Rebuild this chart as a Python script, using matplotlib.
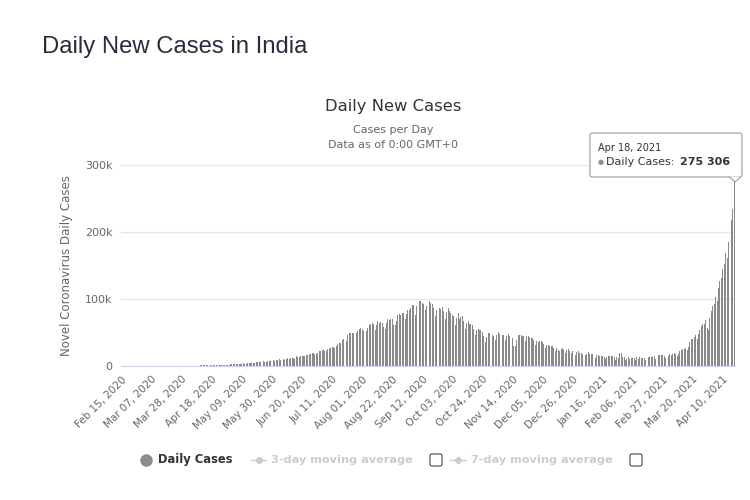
import numpy as np
import pandas as pd
import matplotlib
matplotlib.use("Agg")
import matplotlib.pyplot as plt
from matplotlib.lines import Line2D
from matplotlib.patches import FancyBboxPatch, Polygon

# daily new cases, India (month by month)
feb_2020 = [0] * 15
mar_2020 = [0, 2, 1, 22, 2, 1, 3, 5, 9, 15, 8, 11, 9, 20, 11, 6, 23, 14, 38, 50,
            86, 66, 103, 37, 121, 70, 160, 100, 112, 227, 146]
apr_2020 = [601, 545, 478, 515, 506, 489, 573, 565, 813, 871, 854, 758, 1243, 1031,
            886, 1061, 922, 1371, 1580, 1239, 1537, 1292, 1667, 1408, 1835, 1607,
            1568, 1902, 1705, 1801]
may_2020 = [2396, 2564, 2952, 3656, 2971, 3587, 3364, 3344, 3113, 4353, 3607, 3524,
            3763, 3942, 3787, 4864, 5050, 4630, 6147, 5553, 6198, 6568, 6629, 7111,
            6387, 6535, 7293, 7300, 8105, 8336, 8782]
jun_2020 = [7761, 8821, 9633, 9889, 9471, 10438, 10864, 8442, 10218, 11458, 10956,
            11929, 12036, 11502, 10667, 14516, 12881, 13586, 14933, 15413, 14821,
            14933, 15968, 16922, 17296, 18552, 19906, 19459, 18522, 18653]
jul_2020 = [19428, 21947, 22718, 24018, 24248, 22252, 22752, 24879, 26506, 27114,
            28637, 28701, 26506, 29429, 32695, 34956, 34884, 38697, 40425, 37148,
            37724, 45720, 49310, 48916, 48661, 49931, 47703, 48513, 52123, 55079,
            57118]
aug_2020 = [54735, 52972, 52050, 52509, 56282, 62538, 61537, 64399, 62064, 53601,
            60963, 66999, 64553, 65002, 63489, 57982, 55079, 64531, 69652, 68898,
            69878, 69874, 61408, 60975, 67151, 75760, 77266, 76472, 78761, 78512,
            69921]
sep_2020 = [78357, 83883, 83341, 86432, 90632, 90802, 75809, 89706, 95735, 96551,
            97570, 94372, 92071, 83809, 90123, 97894, 96424, 93337, 92605, 86961,
            75083, 83347, 86508, 86052, 85362, 88600, 82170, 70589, 80472, 86821]
oct_2020 = [81484, 79476, 75829, 74442, 61267, 72049, 78524, 70496, 73272, 74383,
            66732, 55342, 63509, 67708, 63371, 62212, 61871, 55722, 46790, 54044,
            55839, 54366, 53370, 50129, 45149, 36470, 43893, 49881, 48648, 48268,
            46963]
nov_2020 = [45231, 38310, 46253, 50210, 47638, 50357, 45674, 45903, 38073, 44281,
            47905, 44879, 44878, 41100, 30548, 29164, 38617, 45576, 45882, 46232,
            45209, 44059, 37975, 44376, 44489, 43082, 41322, 41810, 38772, 31118]
dec_2020 = [36604, 35551, 36595, 36652, 36011, 32981, 26567, 32080, 31521, 29398,
            30006, 30254, 27071, 22065, 26382, 24010, 22890, 25153, 26624, 24337,
            19556, 23950, 24712, 23067, 18732, 22273, 20021, 16432, 20550, 21822,
            20036]
jan_2021 = [19079, 18177, 18088, 16375, 18088, 20346, 18139, 18222, 18645, 16311,
            12584, 15968, 16946, 15590, 15158, 15144, 13788, 10064, 13823, 15223,
            14545, 14256, 14849, 13203, 9102, 12689, 11666, 18855, 18855, 13083,
            13052]
feb_2021 = [8635, 11039, 12899, 11024, 12408, 11713, 11831, 9110, 12923, 11067,
            12923, 12143, 12194, 11649, 9121, 11610, 12881, 13193, 13993, 13993,
            14264, 10584, 13742, 16738, 16577, 16488, 16752, 15510]
mar_2021 = [12286, 15510, 14989, 17407, 16838, 18327, 18711, 18599, 15388, 17921,
            22854, 23285, 24882, 25320, 26291, 24492, 28903, 35871, 39726, 40953,
            43846, 46951, 40715, 47262, 53476, 59118, 62258, 62714, 68020, 56211,
            53480]
apr_2021 = [72330, 81466, 89129, 93249, 103558, 96982, 115736, 126789, 131968,
            145384, 152879, 168912, 161736, 185248, 200739, 217353, 234692, 275306]

daily_cases = (feb_2020 + mar_2020 + apr_2020 + may_2020 + jun_2020 + jul_2020
               + aug_2020 + sep_2020 + oct_2020 + nov_2020 + dec_2020 + jan_2021
               + feb_2021 + mar_2021 + apr_2021)
dates = pd.date_range("2020-02-15", periods=len(daily_cases), freq="D")
tick_dates = pd.date_range("2020-02-15", "2021-04-18", freq="21D")
y_ticks = [0, 100000, 200000, 300000]
y_labels = ["0", "100k", "200k", "300k"]

fig = plt.figure(figsize=(7.5, 5), dpi=100)
ax = fig.add_axes([121 / 750, 1 - 366 / 500, 614 / 750, 201 / 500])

x = np.arange(len(daily_cases))
ax.bar(x, daily_cases, width=0.66, color="#8a8a8a", zorder=2)

ax.set_xlim(-0.5, len(daily_cases) - 0.5)
ax.set_ylim(0, 300000)
ax.set_yticks(y_ticks)
ax.set_yticklabels(y_labels, color="#666666", fontsize=8)
ax.grid(axis="y", color="#e6e6e6", linewidth=1, zorder=0)
tick_pos = [dates.get_loc(d) for d in tick_dates]
ax.set_xticks(tick_pos)
ax.set_xticklabels([d.strftime("%b %d, %Y") for d in tick_dates],
                   rotation=45, ha="right", va="top", rotation_mode="anchor",
                   color="#666666", fontsize=7.5)
ax.tick_params(length=0, pad=6)
for s in ["top", "right", "left"]:
    ax.spines[s].set_visible(False)
ax.spines["bottom"].set_color("#ccd6eb")
ax.set_ylabel("Novel Coronavirus Daily Cases", color="#666666", fontsize=8.5,
              labelpad=9)

# titles
fig.text(42 / 750, 1 - 47 / 500, "Daily New Cases in India", fontsize=17.2,
         family="Liberation Sans", color="#2b2b3b", va="center")
fig.text(393 / 750, 1 - 106 / 500, "Daily New Cases", fontsize=11.8,
         color="#333333", ha="center", va="center")
fig.text(393 / 750, 1 - 130 / 500, "Cases per Day", fontsize=8,
         color="#666666", ha="center", va="center")
fig.text(393 / 750, 1 - 145 / 500, "Data as of 0:00 GMT+0", fontsize=8,
         color="#666666", ha="center", va="center")

# tooltip on the last bar
box = FancyBboxPatch((590 / 750, 1 - 177 / 500), 152 / 750, 44 / 500,
                     boxstyle="round,pad=0,rounding_size=0.004",
                     transform=fig.transFigure, facecolor="white",
                     edgecolor="#999999", linewidth=0.8, zorder=5)
fig.add_artist(box)
notch = Polygon([(729 / 750, 1 - 176.6 / 500), (735 / 750, 1 - 182 / 500),
                 (741 / 750, 1 - 176.6 / 500)], closed=False,
                transform=fig.transFigure, facecolor="white",
                edgecolor="#999999", linewidth=0.8, zorder=6)
fig.add_artist(notch)
fig.text(598 / 750, 1 - 148 / 500, "Apr 18, 2021", fontsize=7, color="#333333",
         va="center", zorder=7)
fig.text(598 / 750, 1 - 162 / 500, "\u25cf", fontsize=5, color="#8c8c8c",
         va="center", zorder=7)
fig.text(606 / 750, 1 - 162 / 500, "Daily Cases: ", fontsize=8, color="#333333",
         va="center", zorder=7)
fig.text(680 / 750, 1 - 162 / 500, "275 306", fontsize=8, color="#333333",
         weight="bold", va="center", zorder=7)

# legend row
ly = 1 - 460 / 500
fig.add_artist(Line2D([146 / 750], [ly], marker="o", markersize=8,
                      color="#8c8c8c", transform=fig.transFigure))
fig.text(158 / 750, ly, "Daily Cases", fontsize=8.3, weight="bold",
         color="#333333", va="center")
fig.add_artist(Line2D([251 / 750, 266 / 750], [ly, ly], color="#cccccc",
                      linewidth=1, transform=fig.transFigure))
fig.add_artist(Line2D([258.5 / 750], [ly], marker="o", markersize=4,
                      color="#cccccc", transform=fig.transFigure))
fig.text(271 / 750, ly, "3-day moving average", fontsize=8.1, weight="bold",
         color="#cccccc", va="center")
fig.add_artist(FancyBboxPatch((430 / 750, ly - 6 / 500), 12 / 750, 12 / 500,
                              boxstyle="round,pad=0,rounding_size=0.003",
                              transform=fig.transFigure, facecolor="white",
                              edgecolor="#444444", linewidth=0.8))
fig.add_artist(Line2D([450 / 750, 466 / 750], [ly, ly], color="#cccccc",
                      linewidth=1, transform=fig.transFigure))
fig.add_artist(Line2D([458 / 750], [ly], marker="D", markersize=3.5,
                      color="#cccccc", transform=fig.transFigure))
fig.text(471 / 750, ly, "7-day moving average", fontsize=8.1, weight="bold",
         color="#cccccc", va="center")
fig.add_artist(FancyBboxPatch((630 / 750, ly - 6 / 500), 12 / 750, 12 / 500,
                              boxstyle="round,pad=0,rounding_size=0.003",
                              transform=fig.transFigure, facecolor="white",
                              edgecolor="#444444", linewidth=0.8))

fig.savefig("out.png", dpi=100, facecolor="white")
